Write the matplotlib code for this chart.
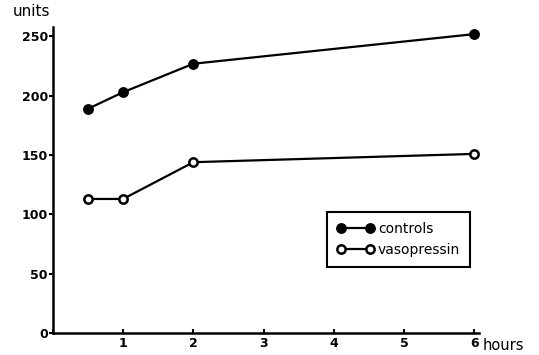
import matplotlib
matplotlib.use("Agg")
import matplotlib.pyplot as plt

# values
hours = [0.5, 1, 2, 6]
controls = [189, 203, 227, 252]
vasopressin = [113, 113, 144, 151]
x_ticks = [0, 1, 2, 3, 4, 5, 6]
x_labels = ["", "1", "2", "3", "4", "5", "6"]
y_ticks = [0, 50, 100, 150, 200, 250]

fig = plt.figure(figsize=(5.39, 3.55), dpi=100)
ax = fig.add_axes([0.098, 0.062, 0.790, 0.862])

ax.plot(hours, controls, color="black", lw=1.6, marker="o", ms=6.8,
        mfc="black", mec="black", label="controls", clip_on=False)
ax.plot(hours, vasopressin, color="black", lw=1.6, marker="o", ms=6,
        mfc="white", mec="black", mew=1.8, label="vasopressin", clip_on=False)

ax.set_xlim(0, 6.06)
ax.set_ylim(0, 258)

for side in ["top", "right"]:
    ax.spines[side].set_visible(False)
for side in ["left", "bottom"]:
    ax.spines[side].set_linewidth(1.8)

ax.set_xticks(x_ticks)
ax.set_xticklabels(x_labels)
ax.set_yticks(y_ticks)
ax.tick_params(axis="x", direction="in", length=3, width=1.5, pad=3,
               labelsize=9)
ax.tick_params(axis="y", direction="out", length=3, width=1.5, pad=0.5,
               labelsize=9)
for lbl in ax.get_xticklabels() + ax.get_yticklabels():
    lbl.set_fontweight("bold")

fig.text(13 / 539, 1 - 12 / 355, "units", fontsize=11, va="center", ha="left")
fig.text(483 / 539, 1 - 345 / 355, "hours", fontsize=10.5, va="center", ha="left")

leg = ax.legend(loc="upper left", bbox_to_anchor=(0.643, 0.395),
                borderaxespad=0, numpoints=2, handlelength=2.7, fontsize=10,
                fancybox=False, edgecolor="black", framealpha=1,
                borderpad=0.7, labelspacing=0.5, handletextpad=0.3)
leg.get_frame().set_linewidth(1.5)

fig.savefig("out.png", dpi=100)
